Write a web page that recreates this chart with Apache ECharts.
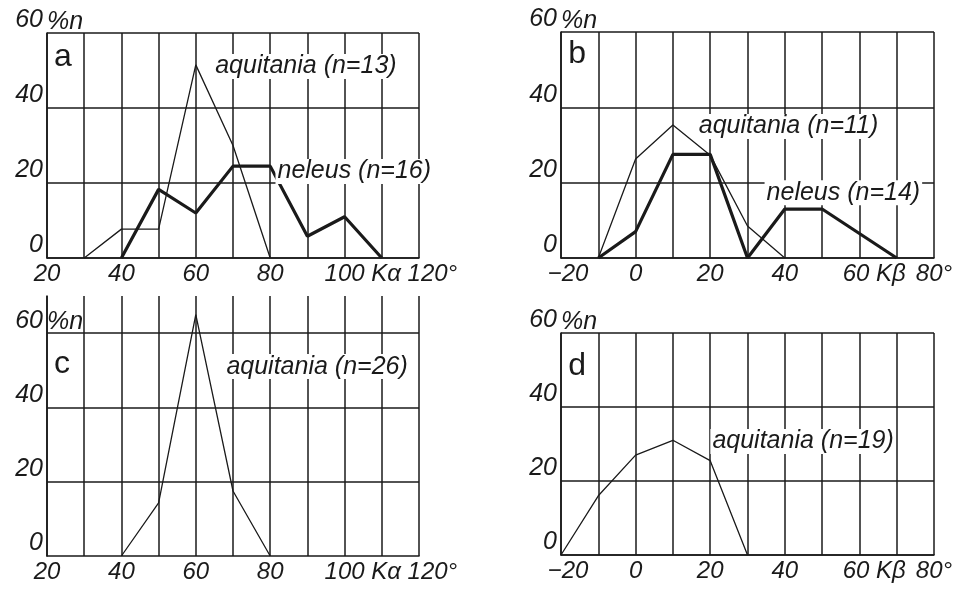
<!DOCTYPE html>
<html><head><meta charset="utf-8">
<script src="https://cdn.jsdelivr.net/npm/echarts@6/dist/echarts.min.js"></script>
<style>html,body{margin:0;padding:0;background:#fff}#c{width:959px;height:589px}</style>
</head><body><div id="c"></div><script>
// ---- data ----
const xA_aq = [30, 40, 50, 60, 70, 80];
const yA_aq = [0, 7.7, 7.7, 51.5, 30, 0];
const xA_ne = [40, 50, 60, 70, 80, 90, 100, 110];
const yA_ne = [0, 18.3, 12, 24.5, 24.5, 5.8, 11, 0];
const xB_aq = [-10, 0, 10, 20, 30, 40];
const yB_aq = [0, 26.3, 35.3, 27.3, 8.5, 0];
const xB_ne = [-10, 0, 10, 20, 30, 40, 50, 60, 70];
const yB_ne = [0, 7, 27.5, 27.5, 0, 13, 13, 6.5, 0];
const xC_aq = [40, 50, 60, 70, 80];
const yC_aq = [0, 14.3, 65, 17.5, 0];
const xD_aq = [-20, -10, 0, 10, 20, 30];
const yD_aq = [0, 16, 27, 31, 25.5, 0];

const yTicks = [0, 20, 40, 60];
const yTickLabels = ['0', '20', '40', '60'];
const xTicksAlpha = [20, 40, 60, 80, 100, 120];
const xLabelsAlpha = ['20', '40', '60', '80', '{h| Kα}100 Kα', '{h|00}120°'];
const xTicksBeta = [-20, 0, 20, 40, 60, 80];
const xLabelsBeta = ['{h|−}−20', '0', '20', '40', '{h|Kβ}60 Kβ', '80°'];
const yUnit = '%n';
const panelLetters = ['a', 'b', 'c', 'd'];
const seriesLabels = ['aquitania (n=13)', 'neleus (n=16)', 'aquitania (n=11)', 'neleus (n=14)', 'aquitania (n=26)', 'aquitania (n=19)'];

// ---- styling ----
const INK = '#1a1a1a';
const FONT = "'Liberation Sans', Arial, sans-serif";
const FS = 25;
const XFS = 24;
const zip = (xs, ys) => xs.map((x, i) => [x, ys[i]]);
const hiddenRich = { h: { color: 'rgba(0,0,0,0)', fontSize: XFS, fontStyle: 'italic', fontFamily: FONT } };

function xAxis(idx, min, max, ticks, labels) {
  return {
    type: 'value', gridIndex: idx, min: min, max: max, interval: 10,
    axisLine: { show: true, onZero: false, lineStyle: { color: INK, width: 1.6 } },
    axisTick: { show: false },
    splitLine: { show: true, lineStyle: { color: INK, width: 1.5 } },
    axisLabel: {
      margin: 4, color: INK, fontSize: XFS, fontStyle: 'italic', fontFamily: FONT,
      showMinLabel: true, showMaxLabel: true, rich: hiddenRich,
      formatter: v => { const i = ticks.indexOf(v); return i < 0 ? '' : labels[i]; }
    }
  };
}
function yAxis(idx, max, split, nameGap) {
  return {
    type: 'value', gridIndex: idx, min: 0, max: max, interval: 20,
    name: yUnit, nameLocation: 'end', nameGap: nameGap,
    nameTextStyle: { align: 'left', verticalAlign: 'bottom', color: INK, fontSize: FS, fontStyle: 'italic', fontFamily: FONT, padding: [0, 0, -2, 0] },
    axisLine: { show: true, onZero: false, lineStyle: { color: INK, width: 1.6 } },
    axisTick: { show: false },
    splitLine: { show: split, lineStyle: { color: INK, width: 1.5 } },
    axisLabel: {
      margin: 4, color: INK, fontSize: FS, fontStyle: 'italic', fontFamily: FONT, verticalAlign: 'bottom',
      formatter: v => { const i = yTicks.indexOf(v); return i < 0 ? '' : yTickLabels[i]; }
    }
  };
}
const noteStyle = { show: true, position: 'inside', color: INK, fontSize: FS, fontStyle: 'italic', fontFamily: FONT, backgroundColor: '#fff', padding: [0, 2] };
const letterStyle = { show: true, position: 'inside', color: INK, fontSize: 32, fontFamily: FONT, backgroundColor: '#fff', padding: [0, 2] };
function marks(notes, letter) {
  const data = notes.map(n => ({ coord: [n[0], n[1]], label: Object.assign({}, noteStyle, { formatter: n[2] }) }));
  data.push({ coord: [letter[0], letter[1]], label: Object.assign({}, letterStyle, { formatter: letter[2] }) });
  return { symbol: 'circle', symbolSize: 0.1, silent: true, itemStyle: { color: 'rgba(0,0,0,0)' }, data: data };
}
function line(idx, xs, ys, w, extra) {
  return Object.assign({
    type: 'line', xAxisIndex: idx, yAxisIndex: idx, data: zip(xs, ys), symbol: 'none', silent: true,
    lineStyle: { color: INK, width: w }, z: 3, animation: false
  }, extra || {});
}

const option = {
  animation: false,
  backgroundColor: '#fff',
  grid: [
    { left: 47, top: 33, width: 372, height: 225 },
    { left: 561, top: 32, width: 373, height: 226 },
    { left: 47, top: 296, width: 372, height: 260 },
    { left: 561, top: 333, width: 373, height: 222 }
  ],
  xAxis: [
    xAxis(0, 20, 120, xTicksAlpha, xLabelsAlpha),
    xAxis(1, -20, 80, xTicksBeta, xLabelsBeta),
    xAxis(2, 20, 120, xTicksAlpha, xLabelsAlpha),
    xAxis(3, -20, 80, xTicksBeta, xLabelsBeta)
  ],
  yAxis: [
    yAxis(0, 60, true, 0),
    yAxis(1, 60, true, 0),
    yAxis(2, 70, false, -37),
    yAxis(3, 60, true, 0)
  ],
  series: [
    line(0, xA_aq, yA_aq, 1.3, { markPoint: marks([[89.6, 51.1, seriesLabels[0]], [102.6, 23.1, seriesLabels[1]]], [24.3, 53.6, panelLetters[0]]) }),
    line(0, xA_ne, yA_ne, 3.2),
    line(1, xB_aq, yB_aq, 1.3, { markPoint: marks([[41, 34.9, seriesLabels[2]], [55.7, 17.3, seriesLabels[3]]], [-15.7, 54.2, panelLetters[1]]) }),
    line(1, xB_ne, yB_ne, 3.2),
    line(2, xC_aq, yC_aq, 1.3, {
      markPoint: marks([[92.6, 51, seriesLabels[4]]], [24, 51.7, panelLetters[2]]),
      markLine: { silent: true, symbol: 'none', label: { show: false }, lineStyle: { color: INK, width: 1.5, type: 'solid' },
        data: yTicks.slice(1).map(v => ({ yAxis: v })) }
    }),
    line(3, xD_aq, yD_aq, 1.3, { markPoint: marks([[44.9, 30.7, seriesLabels[5]]], [-15.7, 51, panelLetters[3]]) })
  ]
};
const chart = echarts.init(document.getElementById('c'), null, { renderer: 'canvas' });
chart.setOption(option);
</script></body></html>
